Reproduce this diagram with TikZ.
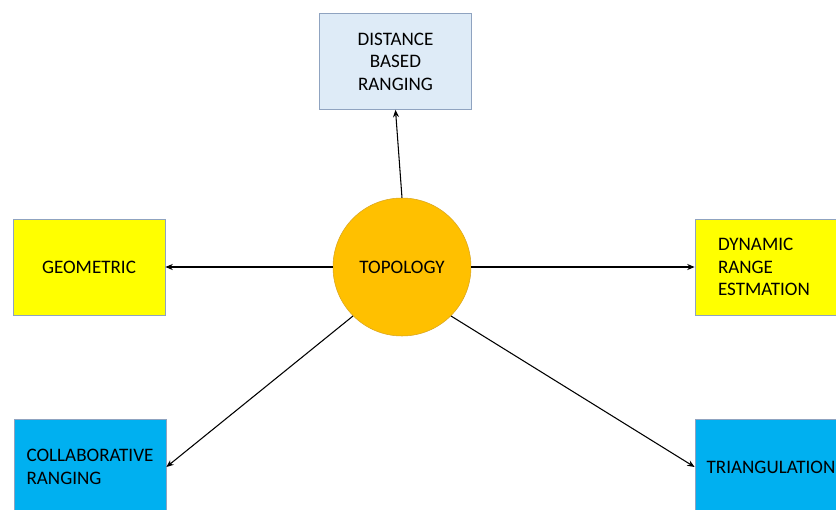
\documentclass[tikz,border=0pt]{standalone}
\usepackage{fontspec}
\setmainfont{Carlito}
\usetikzlibrary{positioning, arrows.meta, calc}

\definecolor{paleblue}{HTML}{DEEBF7}
\definecolor{brightyellow}{HTML}{FFFF00}
\definecolor{skyblue}{HTML}{00B0F0}
\definecolor{amber}{HTML}{FFC000}
\definecolor{boxline}{HTML}{8FA3C0}
\definecolor{amberline}{HTML}{D9A520}

\begin{document}
\begin{tikzpicture}[x=0.75pt, y=-0.75pt,
        box/.style={draw=boxline, line width=0.6pt, minimum width=114pt, minimum height=72pt,
            inner sep=0pt, font=\fontsize{14.3}{17}\selectfont},
        link/.style={-{Stealth[length=5.5pt,width=4.5pt]}, line width=0.8pt}]
        \useasboundingbox (0,0) rectangle (836,510);

        % centre
        \node[circle, draw=amberline, fill=amber, minimum size=103.5pt,
            font=\fontsize{14.3}{17}\selectfont] (topo) at (402,267) {TOPOLOGY};

        % boxes
        \node[box, fill=paleblue, align=center, text depth=-3pt] (dist) at (395.5,61.5) {DISTANCE\\BASED\\RANGING};
        \node[box, fill=brightyellow] (geo) at (89,267) {GEOMETRIC};
        \node[box, fill=brightyellow, align=left, text width=79.5pt] (dyn) at (771,267) {DYNAMIC\\RANGE\\ESTMATION};
        \node[box, fill=skyblue, align=left] (collab) at (90,467) {COLLABORATIVE\\RANGING};
        \node[box, fill=skyblue] (tri) at (771,467) {TRIANGULATION};

        % links
        \draw[link] (topo.north) -- (dist.south);
        \draw[link] (topo.west) -- (geo.east);
        \draw[link] (topo.east) -- (dyn.west);
        \draw[link] (topo.-135) -- (collab.east);
        \draw[link] (topo.-45) -- (tri.west);
\end{tikzpicture}
\end{document}
